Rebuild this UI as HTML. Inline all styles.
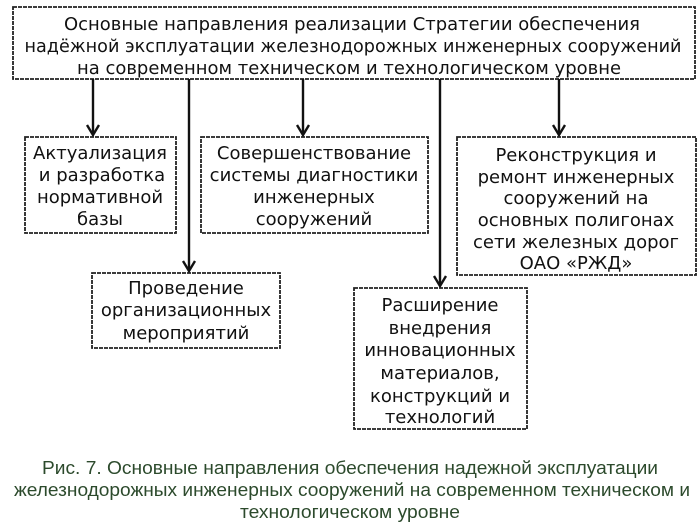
<!DOCTYPE html>
<html><head><meta charset="utf-8"><style>
html,body{margin:0;padding:0;background:#fff;width:700px;height:528px;overflow:hidden}
svg{display:block}
.t{font-family:"DejaVu Sans","Liberation Sans",sans-serif;font-size:18px;fill:#111;text-anchor:middle}
.c{font-family:"Liberation Sans Narrow","Liberation Sans",sans-serif;font-size:18px;fill:#2c4a2c;text-anchor:middle}
</style></head><body>
<svg width="700" height="528" viewBox="0 0 700 528" xmlns="http://www.w3.org/2000/svg">
<g fill="none" stroke="#222" stroke-width="1.8" stroke-dasharray="4,1">
<rect x="13" y="7" width="682" height="72"/>
<rect x="25" y="137" width="151" height="96"/>
<rect x="201" y="137" width="227" height="96"/>
<rect x="457" y="137" width="239" height="138"/>
<rect x="92" y="273" width="188" height="75"/>
<rect x="354" y="288" width="173" height="141"/>
</g>
<g stroke="#111" stroke-width="2.4" fill="none">
<line x1="93" y1="79" x2="93" y2="135"/>
<line x1="189" y1="79" x2="189" y2="271"/>
<line x1="303" y1="79" x2="303" y2="135"/>
<line x1="440" y1="79" x2="440" y2="286"/>
<line x1="559" y1="79" x2="559" y2="135"/>
<path d="M87,125 L93,135 L99,125"/>
<path d="M183,261 L189,271 L195,261"/>
<path d="M297,125 L303,135 L309,125"/>
<path d="M434,276 L440,286 L446,276"/>
<path d="M553,125 L559,135 L565,125"/>
</g>
<text class="t" x="352" y="30" textLength="576" lengthAdjust="spacingAndGlyphs">Основные направления реализации Стратегии обеспечения</text>
<text class="t" x="353" y="52" textLength="657" lengthAdjust="spacingAndGlyphs">надёжной эксплуатации железнодорожных инженерных сооружений</text>
<text class="t" x="349" y="74" textLength="544" lengthAdjust="spacingAndGlyphs">на современном техническом и технологическом уровне</text>
<g class="t">
<text class="t" x="100" y="159">Актуализация</text>
<text class="t" x="102" y="181">и разработка</text>
<text class="t" x="100" y="203">нормативной</text>
<text class="t" x="100" y="225">базы</text>
<text class="t" x="314" y="159">Совершенствование</text>
<text class="t" x="314" y="181">системы диагностики</text>
<text class="t" x="314" y="203">инженерных</text>
<text class="t" x="314" y="225">сооружений</text>
<text class="t" x="576" y="161">Реконструкция и</text>
<text class="t" x="576" y="183">ремонт инженерных</text>
<text class="t" x="576" y="204">сооружений на</text>
<text class="t" x="576" y="226">основных полигонах</text>
<text class="t" x="576" y="248">сети железных дорог</text>
<text class="t" x="576" y="269">ОАО «РЖД»</text>
<text class="t" x="186" y="294">Проведение</text>
<text class="t" x="186" y="316">организационных</text>
<text class="t" x="186" y="339">мероприятий</text>
<text class="t" x="440" y="311">Расширение</text>
<text class="t" x="440" y="334">внедрения</text>
<text class="t" x="440" y="356">инновационных</text>
<text class="t" x="440" y="379">материалов,</text>
<text class="t" x="440" y="402">конструкций и</text>
<text class="t" x="440" y="423">технологий</text>
</g>
<text class="c" x="350" y="474" textLength="616" lengthAdjust="spacingAndGlyphs">Рис. 7. Основные направления обеспечения надежной эксплуатации</text>
<text class="c" x="352" y="496" textLength="676" lengthAdjust="spacingAndGlyphs">железнодорожных инженерных сооружений на современном техническом и</text>
<text class="c" x="350" y="518" textLength="220" lengthAdjust="spacingAndGlyphs">технологическом уровне</text>
</svg>
</body></html>
